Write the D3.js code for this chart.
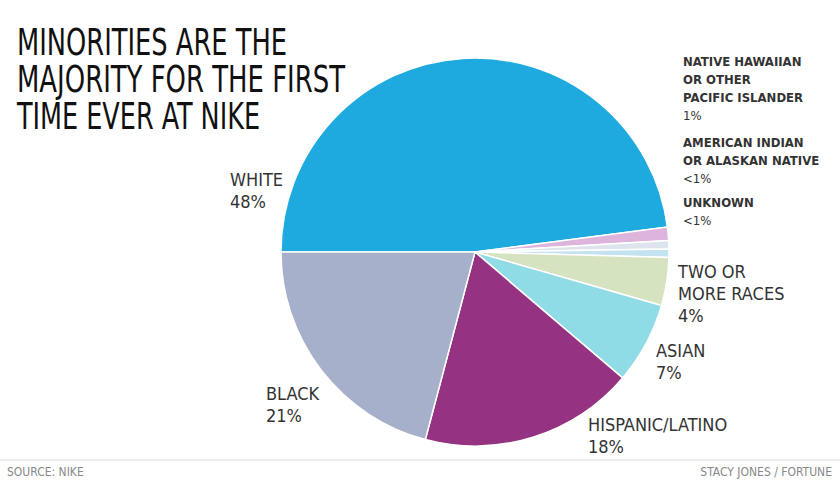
<!DOCTYPE html>
<html><head><meta charset="utf-8">
<script src="https://cdn.jsdelivr.net/npm/d3@7/dist/d3.min.js"></script>
<style>body{margin:0;background:#fff}svg{display:block}text{font-family:"DejaVu Sans Condensed","DejaVu Sans",sans-serif}</style>
</head><body><svg id="c" width="840" height="485"></svg>
<script>
const categories=["White","Native Hawaiian or Other Pacific Islander","American Indian or Alaskan Native","Unknown","Two or More Races","Asian","Hispanic/Latino","Black"];
const values=[48,1.1,0.7,0.7,4,6.8,17.9,20.9];
const colors=["#1eaadf","#dcb4dc","#dde4ee","#c3e3f1","#d6e3c0","#8fdbe6","#953282","#a7b0cb"];
const labels=[["WHITE","48%"],null,null,null,["TWO OR","MORE RACES","4%"],["ASIAN","7%"],["HISPANIC/LATINO","18%"],["BLACK","21%"]];
const labelPos=[[230,186],null,null,null,[678,278],[656,357],[588,431],[266,400]];
const smallLabels=[["NATIVE HAWAIIAN","OR OTHER","PACIFIC ISLANDER","1%"],["AMERICAN INDIAN","OR ALASKAN NATIVE","<1%"],["UNKNOWN","<1%"]];
const smallPos=[[683,66],[683,147],[683,207]];
const titleLines=["MINORITIES ARE THE","MAJORITY FOR THE FIRST","TIME EVER AT NIKE"];
const titleWidths=[270,328,243];
const svg=d3.select("#c");
const cx=475,cy=252,r=194;
const pie=d3.pie().sort(null).startAngle(-Math.PI/2).endAngle(1.5*Math.PI)(values);
const arc=d3.arc().innerRadius(0).outerRadius(r);
svg.append("g").attr("transform",`translate(${cx},${cy})`).selectAll("path").data(pie).join("path")
 .attr("d",arc).attr("fill",(d,i)=>colors[i]).attr("stroke","#fff").attr("stroke-width",1.5);
titleLines.forEach((t,i)=>
 svg.append("text").attr("x",17).attr("y",55+i*37).attr("font-size",37).attr("fill","#111")
  .attr("textLength",titleWidths[i]).attr("lengthAdjust","spacingAndGlyphs").text(t));
labels.forEach((l,i)=>{if(!l)return;l.forEach((t,j)=>svg.append("text").attr("x",labelPos[i][0]).attr("y",labelPos[i][1]+j*22).attr("font-size",18).attr("fill","#333").text(t));});
smallPos.forEach((p,i)=>smallLabels[i].forEach((t,j)=>{const last=j==smallLabels[i].length-1;
 svg.append("text").attr("x",p[0]).attr("y",p[1]+j*18).attr("font-size",13).attr("font-weight",last?"normal":"bold").attr("fill","#333").text(t);}));
svg.append("line").attr("x1",0).attr("x2",840).attr("y1",460).attr("y2",460).attr("stroke","#ddd");
svg.append("text").attr("x",7).attr("y",476).attr("font-size",12).attr("fill","#888").text("SOURCE: NIKE");
svg.append("text").attr("x",832).attr("y",476).attr("text-anchor","end").attr("font-size",12).attr("fill","#888").text("STACY JONES / FORTUNE");
</script></body></html>
